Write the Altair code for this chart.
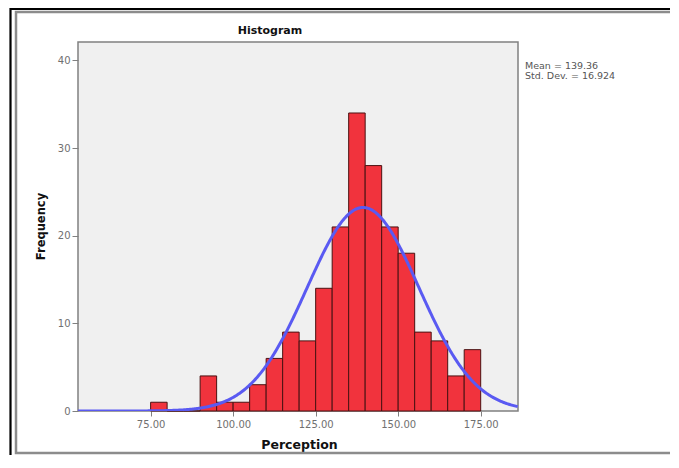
import altair as alt
import pandas as pd

# Histogram data
bin_starts = [75, 80, 85, 90, 95, 100, 105, 110, 115, 120, 125, 130, 135, 140, 145, 150, 155, 160, 165, 170]
counts = [1, 0, 0, 4, 1, 1, 3, 6, 9, 8, 14, 21, 34, 28, 21, 18, 9, 8, 4, 7]
bin_width = 5
mean = 139.36
std_dev = 16.924
x_ticks = [75, 100, 125, 150, 175]
y_ticks = [0, 10, 20, 30, 40]
stats_lines = ["Mean = 139.36", "Std. Dev. = 16.924"]

n_total = sum(counts)

bars_df = pd.DataFrame({
    "start": bin_starts,
    "end": [s + bin_width for s in bin_starts],
    "count": counts,
})

FONT = "DejaVu Sans"
xdom = [53, 186.3]
ydom = [0, 42.1]

xscale = alt.Scale(domain=xdom, nice=False, zero=False)
yscale = alt.Scale(domain=ydom, nice=False)

bars = alt.Chart(bars_df).mark_bar(
    fill="#f1333d", stroke="#4a1212", strokeWidth=1
).encode(
    x=alt.X("start:Q", scale=xscale, axis=alt.Axis(
        values=x_ticks, format=".2f", title="Perception", grid=False, domain=False,
        tickColor="#808080", tickSize=5, labelPadding=3,
        labelFont=FONT, labelFontSize=10, labelColor="#707070",
        titleFont=FONT, titleFontSize=12.5, titleFontWeight="bold", titleColor="#111",
        titleX=221, titleY=33, titleBaseline="middle", titleAlign="center")),
    x2="end:Q",
    y=alt.Y("count:Q", scale=yscale, axis=alt.Axis(
        values=y_ticks, format="d", title="Frequency", grid=False, domain=False,
        tickColor="#808080", tickSize=6, labelPadding=2,
        labelFont=FONT, labelFontSize=10, labelColor="#707070",
        titleFont=FONT, titleFontSize=11.5, titleFontWeight="bold", titleColor="#111",
        titleX=-37, titleY=184, titleBaseline="middle", titleAlign="center", titleAngle=270)),
    y2=alt.datum(0),
)

curve = alt.Chart(alt.sequence(start=xdom[0], stop=xdom[1] + 0.1, step=0.3, as_="xv")).transform_calculate(
    yv=f"{n_total}*{bin_width}/({std_dev}*sqrt(2*PI))*exp(-0.5*pow((datum.xv-{mean})/{std_dev},2))"
).mark_line(color="#5a5af2", strokeWidth=3, clip=True).encode(
    x=alt.X("xv:Q", scale=xscale),
    y=alt.Y("yv:Q", scale=yscale),
)

dummy = pd.DataFrame({"k": [0]})

def frame(x, x2, y, y2, color, w):
    return alt.Chart(dummy).mark_rect(fill=None, fillOpacity=0, stroke=color, strokeWidth=w).encode(
        x=alt.value(x), x2=alt.value(x2), y=alt.value(y), y2=alt.value(y2)
    )

frames = [
    frame(-67.5, 640, -33, 480, "#000000", 2.2),
    frame(-62, 640, -30, 411, "#8c8c8c", 2.5),
]

title = alt.Chart(dummy).mark_text(
    font=FONT, fontSize=11, fontWeight="bold", color="#111", align="center", baseline="middle"
).encode(x=alt.value(192), y=alt.value(-11), text=alt.value("Histogram"))

stats = [
    alt.Chart(dummy).mark_text(
        font=FONT, fontSize=9.5, color="#555", align="left", baseline="middle"
    ).encode(x=alt.value(447), y=alt.value(24 + 9.5 * i), text=alt.value(line))
    for i, line in enumerate(stats_lines)
]

chart = alt.layer(*frames, bars, curve, title, *stats).properties(
    width=440, height=369,
    autosize=alt.AutoSizeParams(type="none"),
    padding={"left": 70, "top": 34, "right": 152, "bottom": 44},
    background="white",
).configure_view(
    fill="#f0f0f0", stroke="#808080", strokeWidth=1.5
)

chart.save("out.html", embed_options={"renderer": "svg", "actions": False})
